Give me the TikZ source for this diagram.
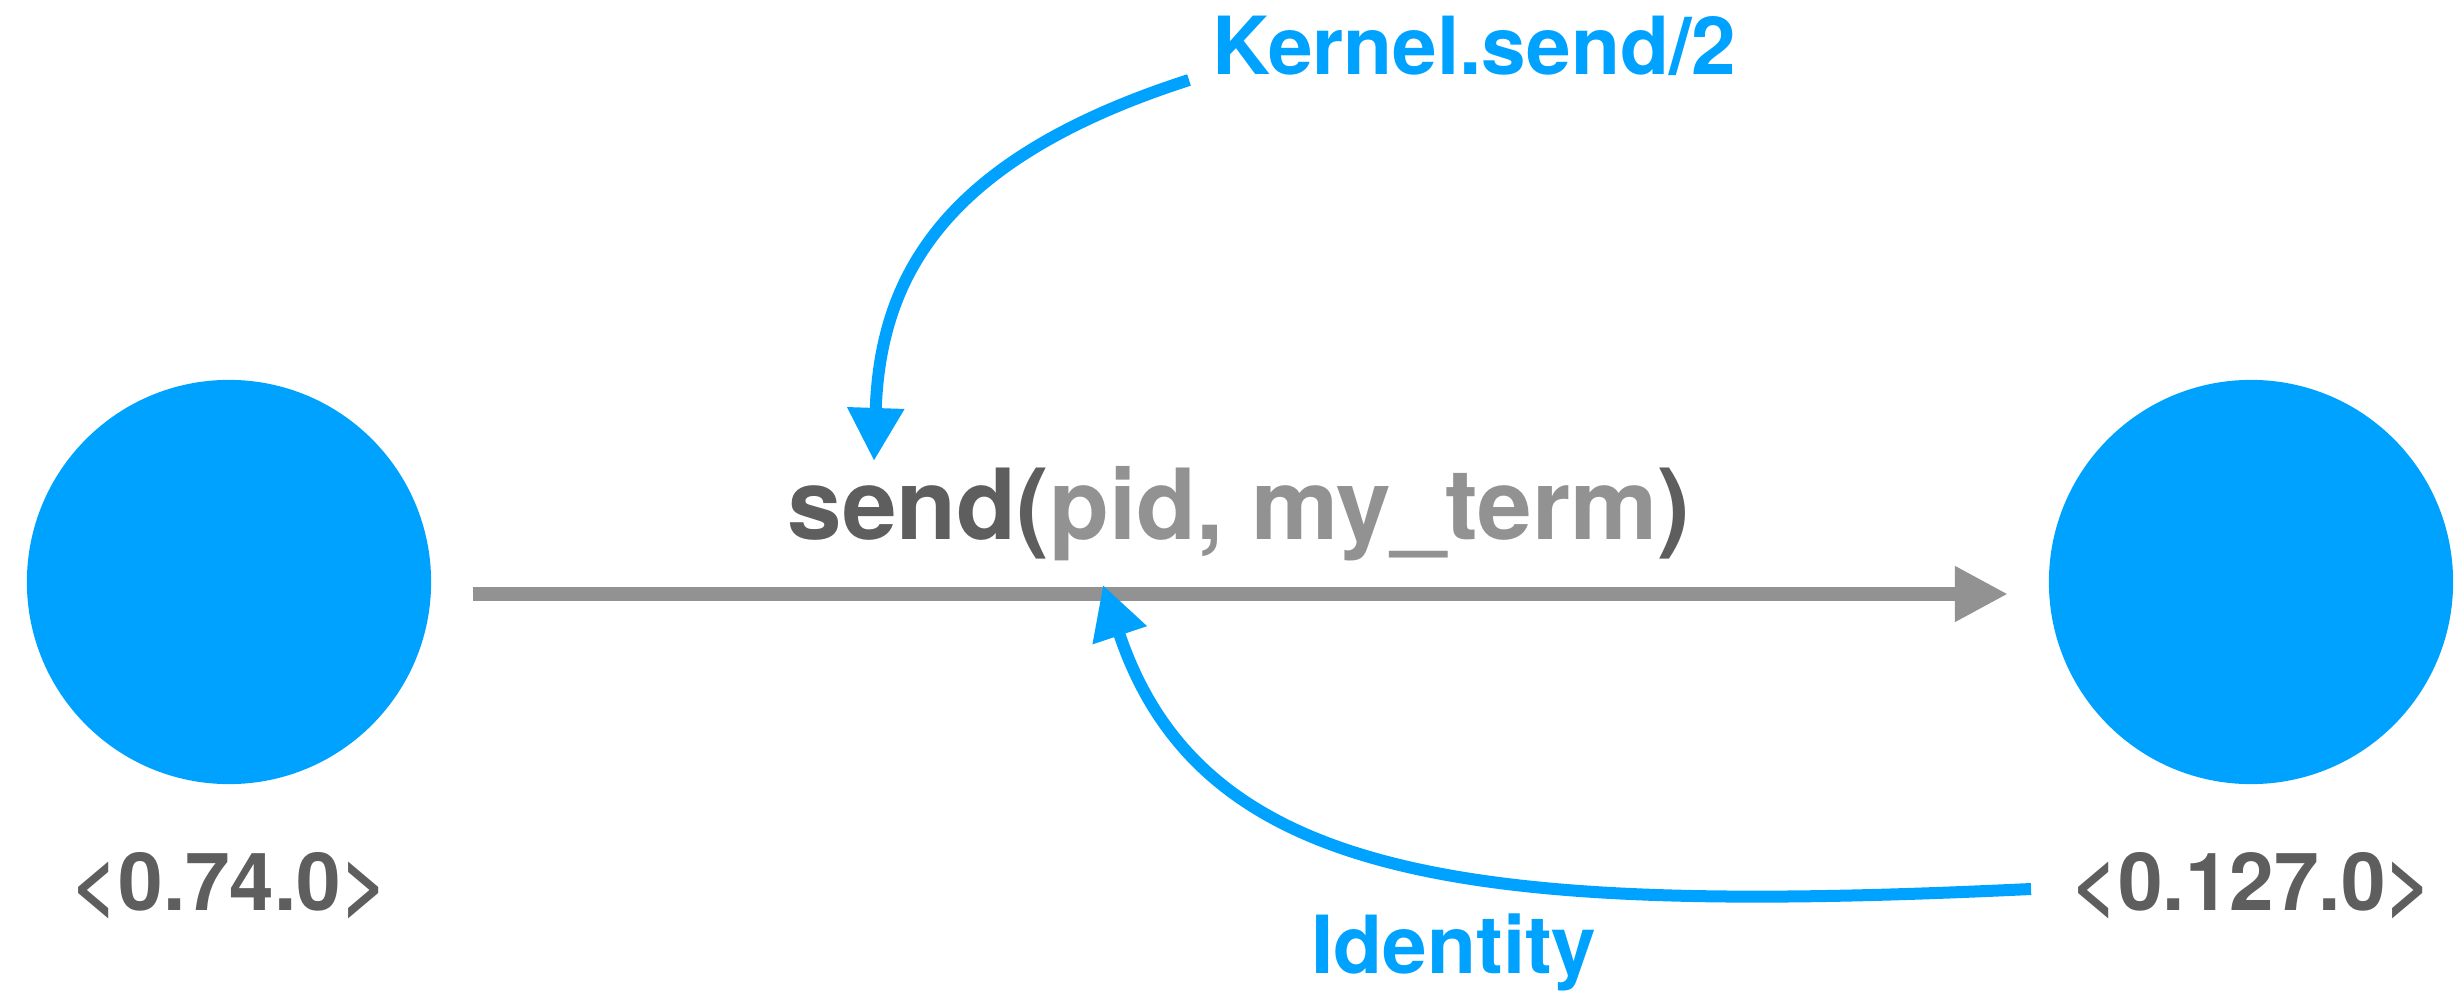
\documentclass[tikz,border=0pt]{standalone}
\usepackage{fontspec}
\setmainfont{TeX Gyre Heros}
\usetikzlibrary{arrows.meta}
\definecolor{elixblue}{HTML}{00A2FF}
\definecolor{darkgr}{HTML}{5E5E5E}
\definecolor{lightgr}{HTML}{929292}
\begin{document}
\begin{tikzpicture}[x=0.01cm,y=-0.01cm,
  proc/.style={circle,fill=elixblue,draw=none,minimum size=4.04cm,inner sep=0pt},
  pidlabel/.style={anchor=base,text=darkgr,font=\fontsize{22.8pt}{26pt}\selectfont\bfseries,inner sep=0pt},
  bluelabel/.style={anchor=base,text=elixblue,font=\fontsize{22.8pt}{26pt}\selectfont\bfseries,inner sep=0pt},
  msg/.style={anchor=base,font=\fontsize{27.9pt}{32pt}\selectfont\bfseries,inner sep=0pt},
  msgarrow/.style={draw=lightgr,line width=0.14cm,-{Triangle[length=0.53cm,width=0.52cm]}},
  bluearrow/.style={draw=elixblue,line width=0.12cm,-{Triangle[length=0.53cm,width=0.54cm]}}
]
\useasboundingbox (0,0) rectangle (2460,994);
\node[proc] (p1) at (229,582) {};
\node[proc] (p2) at (2251,582) {};
\node[pidlabel] (l1) at (230,910) {<0.74.0>};
\node[pidlabel] (l2) at (2252,910) {<0.127.0>};
\coordinate (mstart) at (473,594);
\coordinate (mend) at (2008,594);
\draw[msgarrow] (mstart) -- (mend);
\node[msg] (send) at (1239,539) {\textcolor{darkgr}{send(}\textcolor{lightgr}{pid, my\_term}\textcolor{darkgr}{)}};
\node[bluelabel] (kern) at (1474,75) {Kernel.send/2};
\node[bluelabel] (ident) at (1454,973) {Identity};
\coordinate (kstart) at (1189,80);
\coordinate (ktip) at (874,461);
\draw[bluearrow] (kstart) .. controls (940,160) and (880,280) .. (ktip);
\coordinate (istart) at (2031,889);
\coordinate (itip) at (1103,585);
\draw[bluearrow] (istart) .. controls (1481,915) and (1203,885) .. (itip);
\end{tikzpicture}
\end{document}
